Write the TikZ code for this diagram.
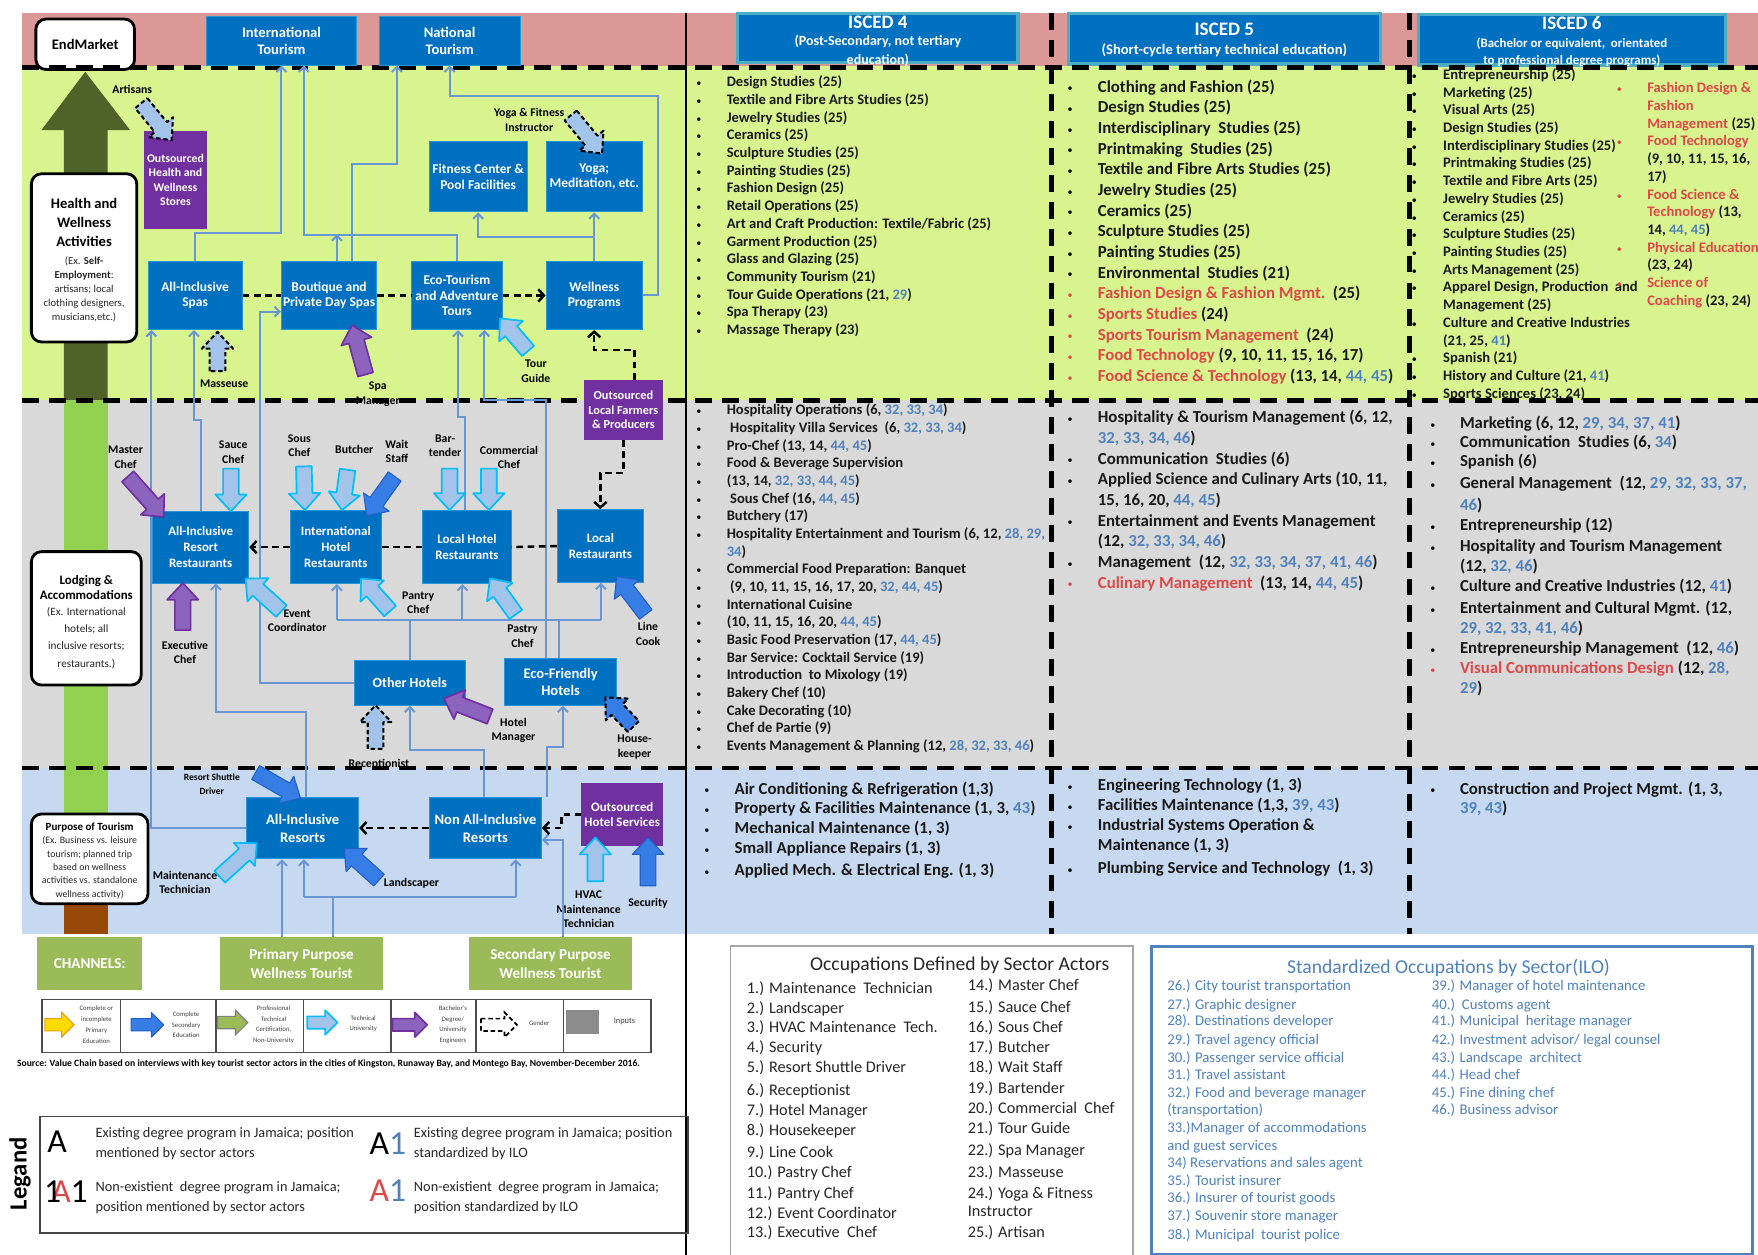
\documentclass[tikz,border=0pt]{standalone}
\usepackage{fontspec}
\setmainfont{Carlito}
\usetikzlibrary{calc,arrows.meta}
\definecolor{pinkband}{RGB}{220,152,150}
\definecolor{greenband}{RGB}{216,244,142}
\definecolor{grayband}{RGB}{217,217,217}
\definecolor{blueband}{RGB}{198,217,240}
\definecolor{boxblue}{RGB}{0,112,192}
\definecolor{boxedge}{RGB}{40,150,215}
\definecolor{purp}{RGB}{112,48,160}
\definecolor{conncol}{RGB}{105,150,212}
\definecolor{ilob}{RGB}{79,129,189}
\definecolor{redt}{RGB}{222,72,72}
\definecolor{olivedk}{RGB}{79,98,40}
\definecolor{lgreen}{RGB}{146,208,80}
\definecolor{brownsh}{RGB}{152,72,7}
\definecolor{chgreen}{RGB}{155,187,89}
\definecolor{falb}{RGB}{163,196,234}
\definecolor{facyan}{RGB}{0,190,250}
\definecolor{fablue}{RGB}{55,125,230}
\definecolor{fabluedk}{RGB}{35,95,200}
\definecolor{fapurp}{RGB}{140,100,190}
\definecolor{hdrcyan}{RGB}{75,172,198}
\definecolor{txtgray}{RGB}{38,38,38}
\definecolor{yel}{RGB}{255,220,0}
\definecolor{yeldk}{RGB}{240,160,0}
\newcounter{tn}
\newcommand{\Tx}[3][l4]{\stepcounter{tn}\node[#1] (t\arabic{tn}) at (#2) {#3};}
\newcommand{\Bx}[2][bul]{\stepcounter{tn}\node[#1] (t\arabic{tn}) at (#2) {\textbullet};}
\newcommand{\ItemB}[5][l4]{\Bx{#2,#4}\Tx[#1]{#3,#4}{#5}}
\newcommand{\ItemR}[5][l4]{\Bx[bul,text=redt]{#2,#4}\Tx[#1]{#3,#4}{#5}}
\newcommand{\qA}[2]{\ItemB[l4]{621}{648}{#1}{#2}}
\newcommand{\qAc}[2]{\Tx[l4]{648,#1}{#2}}
\newcommand{\qB}[2]{\ItemB[l5]{628}{655}{#1}{#2}}
\newcommand{\qV}[2]{\ItemB[l5]{952}{979}{#1}{#2}}
\newcommand{\qVr}[2]{\ItemR[l5]{952}{979}{#1}{#2}}
\newcommand{\qVc}[2]{\Tx[l5]{979,#1}{#2}}
\newcommand{\qS}[2]{\ItemB[l4]{1259}{1287}{#1}{#2}}
\newcommand{\qSc}[2]{\Tx[l4]{1287,#1}{#2}}
\newcommand{\qR}[2]{\ItemR[l4]{1442}{1469}{#1}{#2}}
\newcommand{\qRc}[2]{\Tx[l4]{1469,#1}{#2}}
\newcommand{\qG}[2]{\ItemB[l5]{1275.5}{1302}{#1}{#2}}
\newcommand{\qGr}[2]{\ItemR[l5]{1275.5}{1302}{#1}{#2}}
\newcommand{\qGc}[2]{\Tx[l5]{1302,#1}{#2}}
\newcommand{\bn}[1]{\textcolor{ilob}{#1}}
\newcommand{\rd}[1]{\textcolor{redt}{#1}}
\newcommand{\FAw}{7}
\newcommand{\FAhw}{14}
\newcommand{\FAhl}{15}
\newcommand{\fatarrow}[3][]{%
  \coordinate (fa-t) at #2;
  \coordinate (fa-p) at #3;
  \coordinate (fa-h) at ($(fa-p)!\FAhl pt!(fa-t)$);
  \draw[#1] ($(fa-t)!\FAw pt!90:(fa-p)$) -- ($(fa-h)!\FAw pt!90:(fa-p)$) -- ($(fa-h)!\FAhw pt!90:(fa-p)$) -- (fa-p) -- ($(fa-h)!\FAhw pt!-90:(fa-p)$) -- ($(fa-h)!\FAw pt!-90:(fa-p)$) -- ($(fa-t)!\FAw pt!-90:(fa-p)$) -- cycle;}
\begin{document}
\begin{tikzpicture}[x=1pt,y=-1pt,
  l4/.style={anchor=west, inner sep=0pt, text=black!90, font=\bfseries\fontsize{13}{15}\selectfont, text height=9pt, text depth=3pt},
  l5/.style={anchor=west, inner sep=0pt, text=black!90, font=\bfseries\fontsize{15}{17}\selectfont, text height=10pt, text depth=3.5pt},
  bul/.style={anchor=west, inner sep=0pt, font=\fontsize{9}{9}\selectfont, text height=9pt, text depth=3pt},
  oc/.style={anchor=west, inner sep=0pt, font=\fontsize{14.5}{16}\selectfont, text=txtgray, text height=10pt, text depth=3pt},
  ilot/.style={anchor=west, inner sep=0pt, font=\fontsize{13.2}{15}\selectfont, text=ilob, text height=9pt, text depth=3pt},
  legt/.style={anchor=west, inner sep=0pt, font=\fontsize{12.8}{15}\selectfont, text=txtgray},
  bbox/.style={fill=boxblue, draw=boxedge, line width=0.8pt, text=white, font=\bfseries\fontsize{12}{14}\selectfont, align=center, inner sep=1pt},
  pbox/.style={bbox, fill=purp, draw=purp},
  gbox/.style={fill=chgreen, text=white, font=\bfseries\fontsize{13.5}{16.5}\selectfont, align=center, inner sep=1pt},
  rbox/.style={fill=white, draw=black, line width=2.5pt, rounded corners=9pt, inner sep=0pt},
  lab/.style={font=\bfseries\fontsize{10.5}{13}\selectfont, align=center, inner sep=0pt},
  conn/.style={draw=conncol, line width=1.8pt},
  chead/.style={-{Straight Barb[length=4.5pt,width=9pt]}},
  dconn/.style={draw=black, line width=2.2pt, dash pattern=on 6pt off 4pt},
  dhead/.style={-{Straight Barb[length=5pt,width=11pt]}},
  bandsep/.style={draw=black, line width=4pt, dash pattern=on 15pt off 9pt},
  falight/.style={fill=falb, draw=facyan, line width=1.5pt, line join=round},
  fablu/.style={fill=fablue, draw=fabluedk, line width=1pt, line join=round},
  fapur/.style={fill=fapurp, draw=purp, line width=1.5pt, line join=round},
  fagen/.style={fill=falb, draw=black, line width=1.8pt, dash pattern=on 4pt off 2.5pt, line join=round},
  fagenb/.style={fagen, fill=fablue},
  hdr/.style={fill=boxblue, draw=hdrcyan, line width=3pt, inner sep=0pt},
  hdrt/.style={text=white, inner sep=0pt, font=\bfseries\fontsize{12.5}{14}\selectfont},
  et/.style={font=\fontsize{6}{9.7}\selectfont, align=center, text=gray!50!black, inner sep=0pt},
  cellst/.style={draw=gray!60!black, line width=1.2pt, anchor=north west, inner sep=0pt, minimum height=47pt}
]
\useasboundingbox (0,0) rectangle (1568,1119);
% bands
\fill[pinkband] (20,12) rectangle (1568,59);
\fill[greenband] (20,59) rectangle (1568,357);
\fill[grayband] (20,357) rectangle (1568,685);
\fill[blueband] (20,685) rectangle (1568,833);
% big arrow
\fill[olivedk] (76,64) -- (116,116) -- (96,116) -- (96,357) -- (57,357) -- (57,116) -- (37,116) -- cycle;
\fill[lgreen] (57,357) rectangle (96,766);
\fill[brownsh] (57,766) rectangle (96,833);
% rounded boxes
\node[rbox, minimum width=88pt, minimum height=45pt, font=\bfseries\fontsize{13}{15}\selectfont] (em) at (76,39.5) {EndMarket};
\node[rbox, minimum width=94pt, minimum height=150pt] (hwa) at (75,230) {};
\node[font=\bfseries\fontsize{13}{17}\selectfont, align=center, inner sep=0pt] (hwat) at (75,198.5) {Health and\\Wellness\\Activities};
\node[font=\fontsize{9.5}{12.6}\selectfont, align=center, inner sep=0pt, text=txtgray] (hwas) at (75,258) {(Ex. \textbf{Self-}\\\textbf{Employment}:\\artisans; local\\clothing designers,\\musicians,etc.)};
\node[rbox, minimum width=98pt, minimum height=119pt] (la) at (77,551.5) {};
\node[font=\bfseries\fontsize{11.5}{14}\selectfont, align=center, inner sep=0pt] (lat) at (77,524) {Lodging \&\\Accommodations};
\node[font=\fontsize{10}{15.3}\selectfont, align=center, inner sep=0pt, text=txtgray] (las) at (77,569) {(Ex. International\\hotels; all\\inclusive resorts;\\restaurants.)};
\node[rbox, minimum width=104pt, minimum height=80pt] (pot) at (80,766) {};
\node[font=\bfseries\fontsize{9.8}{12}\selectfont, inner sep=0pt] (pott) at (80,738) {Purpose of Tourism};
\node[font=\fontsize{8.8}{11.9}\selectfont, align=center, inner sep=0pt, text=txtgray] (pots) at (80,774) {(Ex. Business vs. leisure\\tourism; planned trip\\based on wellness\\activities vs. standalone\\wellness activity)};
% ISCED headers
\node[hdr, minimum width=250pt, minimum height=44pt] (h4) at (783,34) {};
\node[hdrt, font=\bfseries\fontsize{17}{18}\selectfont] (h4a) at (783,19.5) {ISCED 4};
\node[hdrt] (h4b) at (783,37) {(Post-Secondary, not tertiary};
\node[hdrt] (h4c) at (783,53.5) {education)};
\node[hdr, minimum width=278pt, minimum height=45pt] (h5) at (1092,34.5) {};
\node[hdrt, font=\bfseries\fontsize{17}{18}\selectfont] (h5a) at (1092,26) {ISCED 5};
\node[hdrt, font=\bfseries\fontsize{13}{14}\selectfont] (h5b) at (1092,45) {(Short-cycle tertiary technical education)};
\node[hdr, minimum width=274pt, minimum height=45pt] (h6) at (1402,35.5) {};
\node[hdrt, font=\bfseries\fontsize{17}{18}\selectfont] (h6a) at (1402,20.5) {ISCED 6};
\node[hdrt, font=\bfseries\fontsize{11.5}{12}\selectfont] (h6b) at (1402,39) {(Bachelor or equivalent,\ \ orientated};
\node[hdrt, font=\bfseries\fontsize{11.5}{12}\selectfont] (h6c) at (1402,54) {to professional degree programs)};
% ISCED 4 lists
\qA{74.3}{Design Studies (25)}
\qA{90.1}{Textile and Fibre Arts Studies (25)}
\qA{105.9}{Jewelry Studies (25)}
\qA{121.7}{Ceramics (25)}
\qA{137.5}{Sculpture Studies (25)}
\qA{153.3}{Painting Studies (25)}
\qA{169.1}{Fashion Design (25)}
\qA{184.9}{Retail Operations (25)}
\qA{200.7}{Art and Craft Production: Textile/Fabric (25)}
\qA{216.5}{Garment Production (25)}
\qA{232.3}{Glass and Glazing (25)}
\qA{248.1}{Community Tourism (21)}
\qA{263.9}{Tour Guide Operations (21, \bn{29})}
\qA{279.7}{Spa Therapy (23)}
\qA{295.5}{Massage Therapy (23)}
\qA{367}{Hospitality Operations (6, \bn{32, 33, 34})}
\qA{382.8}{\hspace{3pt}Hospitality Villa Services\ \ (6, \bn{32, 33, 34})}
\qA{398.5}{Pro-Chef (13, 14, \bn{44, 45})}
\qA{414.3}{Food \& Beverage Supervision}
\qA{430}{(13, 14, \bn{32, 33, 44, 45})}
\qA{445.8}{\hspace{3pt}Sous Chef (16, \bn{44, 45})}
\qA{461.5}{Butchery (17)}
\qA{477.3}{Hospitality Entertainment and Tourism (6, 12, \bn{28, 29,}}
\qAc{493}{\bn{34})}
\qA{508.8}{Commercial Food Preparation: Banquet}
\qA{524.5}{\hspace{3pt}(9, 10, 11, 15, 16, 17, 20, \bn{32, 44, 45})}
\qA{540.3}{International Cuisine}
\qA{556}{(10, 11, 15, 16, 20, \bn{44, 45})}
\qA{571.8}{Basic Food Preservation (17, \bn{44, 45})}
\qA{587.5}{Bar Service: Cocktail Service (19)}
\qA{603.3}{Introduction\ \ to Mixology (19)}
\qA{619}{Bakery Chef (10)}
\qA{634.8}{Cake Decorating (10)}
\qA{650.5}{Chef de Partie (9)}
\qA{666.3}{Events Management \& Planning (12, \bn{28, 32, 33, 46})}
\qB{705}{Air Conditioning \& Refrigeration (1,3)}
\qB{722.5}{Property \& Facilities Maintenance (1, 3, \bn{43})}
\qB{740}{Mechanical Maintenance (1, 3)}
\qB{758}{Small Appliance Repairs (1, 3)}
\qB{777.5}{Applied Mech. \& Electrical Eng. (1, 3)}
% ISCED 5 lists
\qV{79}{Clothing and Fashion (25)}
\qV{97.4}{Design Studies (25)}
\qV{115.9}{Interdisciplinary\ \ Studies (25)}
\qV{134.3}{Printmaking\ \ Studies (25)}
\qV{152.7}{Textile and Fibre Arts Studies (25)}
\qV{171.2}{Jewelry Studies (25)}
\qV{189.6}{Ceramics (25)}
\qV{208}{Sculpture Studies (25)}
\qV{226.4}{Painting Studies (25)}
\qV{244.9}{Environmental\ \ Studies (21)}
\qVr{263.3}{\rd{Fashion Design \& Fashion Mgmt.}\ \ (25)}
\qVr{281.7}{\rd{Sports Studies} (24)}
\qVr{300.2}{\rd{Sports Tourism Management}\ \ (24)}
\qVr{318.6}{\rd{Food Technology} (9, 10, 11, 15, 16, 17)}
\qVr{337}{\rd{Food Science \& Technology} (13, 14, \bn{44, 45})}
\qV{374}{Hospitality \& Tourism Management (6, 12,}
\qVc{392.4}{\bn{32, 33, 34, 46})}
\qV{410.8}{Communication\ \ Studies (6)}
\qV{429.2}{Applied Science and Culinary Arts (10, 11,}
\qVc{447.6}{15, 16, 20, \bn{44, 45})}
\qV{466}{Entertainment and Events Management}
\qVc{484.4}{(12, \bn{32, 33, 34, 46})}
\qV{502.8}{Management\ \ (12, \bn{32, 33, 34, 37, 41, 46})}
\qVr{521.2}{\rd{Culinary Management}\ \ (13, 14, \bn{44, 45})}
\qV{702}{Engineering Technology (1, 3)}
\qV{720}{Facilities Maintenance (1,3, \bn{39, 43})}
\qV{737.5}{Industrial Systems Operation \&}
\qVc{755.5}{Maintenance (1, 3)}
\qV{776}{Plumbing Service and Technology\ \ (1, 3)}
% ISCED 6 lists
\qS{67.8}{Entrepreneurship (25)}
\qS{83.6}{Marketing (25)}
\qS{99.4}{Visual Arts (25)}
\qS{115.2}{Design Studies (25)}
\qS{131}{Interdisciplinary Studies (25)}
\qS{146.8}{Printmaking Studies (25)}
\qS{162.6}{Textile and Fibre Arts (25)}
\qS{178.4}{Jewelry Studies (25)}
\qS{194.2}{Ceramics (25)}
\qS{210}{Sculpture Studies (25)}
\qS{225.8}{Painting Studies (25)}
\qS{241.6}{Arts Management (25)}
\qS{257.4}{Apparel Design, Production\ \ and}
\qSc{273.2}{Management (25)}
\qS{289}{Culture and Creative Industries}
\qSc{304.8}{(21, 25, \bn{41})}
\qS{320.6}{Spanish (21)}
\qS{336.4}{History and Culture (21, \bn{41})}
\qS{352.2}{Sports Sciences (23, 24)}
\qR{79.7}{\rd{Fashion Design \&}}
\qRc{95.5}{\rd{Fashion}}
\qRc{111.3}{\rd{Management} (25)}
\qR{127.1}{\rd{Food Technology}}
\qRc{142.9}{(9, 10, 11, 15, 16,}
\qRc{158.7}{17)}
\qR{174.5}{\rd{Food Science \&}}
\qRc{190.3}{\rd{Technology} (13,}
\qRc{206.1}{14, \bn{44, 45})}
\qR{221.9}{\rd{Physical Education}}
\qRc{237.7}{(23, 24)}
\qR{253.5}{\rd{Science of}}
\qRc{269.3}{\rd{Coaching} (23, 24)}
\qG{379}{Marketing (6, 12, \bn{29, 34, 37, 41})}
\qG{396.3}{Communication\ \ Studies (6, \bn{34})}
\qG{413.2}{Spanish (6)}
\qG{432.6}{General Management\ \ (12, \bn{29, 32, 33, 37,}}
\qGc{451.9}{\bn{46})}
\qG{470.3}{Entrepreneurship (12)}
\qG{488.5}{Hospitality and Tourism Management}
\qGc{506.9}{(12, \bn{32, 46})}
\qG{524.7}{Culture and Creative Industries (12, \bn{41})}
\qG{544}{Entertainment and Cultural Mgmt. (12,}
\qGc{562}{\bn{29, 32, 33, 41, 46})}
\qG{579.7}{Entrepreneurship Management\ \ (12, \bn{46})}
\qGr{597.6}{\rd{Visual Communications Design} (12, \bn{28,}}
\qGc{615.4}{\bn{29})}
\qG{705}{Construction and Project Mgmt. (1, 3,}
\qGc{722.5}{\bn{39, 43})}
% actor labels
\node[lab] (lArt) at (118,80) {Artisans};
\node[lab] (lYoga) at (472,107) {Yoga \& Fitness\\Instructor};
\node[lab] (lMass) at (200,342) {Masseuse};
\node[lab] (lSpa) at (337,351.5) {Spa\\Manager};
\node[lab] (lTour) at (478,331) {Tour\\Guide};
\node[lab] (lMaster) at (112,408) {Master\\Chef};
\node[lab] (lSauce) at (208,403.5) {Sauce\\Chef};
\node[lab] (lSous) at (267,397.5) {Sous\\Chef};
\node[lab] (lButch) at (316,401) {Butcher};
\node[lab] (lWait) at (354,402.5) {Wait\\Staff};
\node[lab] (lBar) at (397,397.5) {Bar-\\tender};
\node[lab] (lComm) at (454,408) {Commercial\\Chef};
\node[lab] (lExec) at (165,582) {Executive\\Chef};
\node[lab] (lEvent) at (265,553.5) {Event\\Coordinator};
\node[lab] (lPantry) at (373,537.5) {Pantry\\Chef};
\node[lab] (lPastry) at (466,567.5) {Pastry\\Chef};
\node[lab] (lLine) at (578,565.5) {Line\\Cook};
\node[lab] (lRecep) at (338,682) {Receptionist};
\node[lab] (lHotel) at (458,651.5) {Hotel\\Manager};
\node[lab] (lHouse) at (566,666.5) {House-\\keeper};
\node[lab, font=\bfseries\fontsize{8.5}{12}\selectfont] (lShuttle) at (189,699.5) {Resort Shuttle\\Driver};
\node[lab] (lMaint) at (165,787) {Maintenance\\Technician};
\node[lab] (lLand) at (367,788) {Landscaper};
\node[lab] (lHVAC) at (525,811) {HVAC\\Maintenance\\Technician};
\node[lab] (lSec) at (578,806) {Security};
% band separators
\draw[bandsep] (20,60) -- (1568,60);
\draw[bandsep] (20,357) -- (1568,357);
\draw[bandsep] (20,685) -- (1568,685);
\draw[bandsep] (938,12) -- (938,833);
\draw[bandsep] (1257,12) -- (1257,833);
\draw[line width=2pt] (612,12) -- (612,1119);
% boxes
\node[bbox, minimum width=134pt, minimum height=43pt, font=\bfseries\fontsize{13}{16}\selectfont] (it) at (251,36.5) {International\\Tourism};
\node[bbox, minimum width=126pt, minimum height=43pt, font=\bfseries\fontsize{13}{16}\selectfont] (nt) at (401,36.5) {National\\Tourism};
\node[pbox, minimum width=55pt, minimum height=87pt, font=\bfseries\fontsize{10.5}{13}\selectfont] (ohw) at (156.5,160.5) {Outsourced\\Health and\\Wellness\\Stores};
\node[bbox, minimum width=87pt, minimum height=63pt] (fc) at (426.5,157.5) {Fitness Center \&\\Pool Facilities};
\node[bbox, minimum width=86pt, minimum height=63pt] (yo) at (530,157.5) {Yoga;\\Meditation, etc.};
\node[bbox, minimum width=84pt, minimum height=61pt] (ais) at (174,263.5) {All-Inclusive\\Spas};
\node[bbox, minimum width=85pt, minimum height=61pt] (bds) at (293.5,263.5) {Boutique and\\Private Day Spas};
\node[bbox, minimum width=81pt, minimum height=61pt] (eco) at (407.5,263.5) {Eco-Tourism\\and Adventure\\Tours};
\node[bbox, minimum width=86pt, minimum height=61pt] (wp) at (530,263.5) {Wellness\\Programs};
\node[pbox, minimum width=70pt, minimum height=53pt, font=\bfseries\fontsize{11}{13}\selectfont] (olf) at (556,365.5) {Outsourced\\Local Farmers\\\& Producers};
\node[bbox, minimum width=86pt, minimum height=64pt, font=\bfseries\fontsize{11.5}{14}\selectfont] (airr) at (179,488) {All-Inclusive\\Resort\\Restaurants};
\node[bbox, minimum width=81pt, minimum height=65pt, font=\bfseries\fontsize{11.5}{14}\selectfont] (ihr) at (299.5,488) {International\\Hotel\\Restaurants};
\node[bbox, minimum width=79pt, minimum height=65pt, font=\bfseries\fontsize{11.5}{14}\selectfont] (lhr) at (416.5,488) {Local Hotel\\Restaurants};
\node[bbox, minimum width=77pt, minimum height=65pt, font=\bfseries\fontsize{11.5}{14}\selectfont] (lr) at (535.5,487) {Local\\Restaurants};
\node[bbox, minimum width=99pt, minimum height=40pt, font=\bfseries\fontsize{12.5}{15}\selectfont] (oh) at (365.5,609) {Other Hotels};
\node[bbox, minimum width=100pt, minimum height=42pt, font=\bfseries\fontsize{13}{15.5}\selectfont] (efh) at (500,608) {Eco-Friendly\\Hotels};
\node[bbox, minimum width=100pt, minimum height=55pt, font=\bfseries\fontsize{13}{16}\selectfont] (air) at (270,738.5) {All-Inclusive\\Resorts};
\node[bbox, minimum width=100pt, minimum height=55pt, font=\bfseries\fontsize{13}{16}\selectfont] (nair) at (433,738.5) {Non All-Inclusive\\Resorts};
\node[pbox, minimum width=72pt, minimum height=55pt, font=\bfseries\fontsize{11.5}{14}\selectfont] (ohs) at (555,726.5) {Outsourced\\Hotel Services};
\node[gbox, minimum width=94pt, minimum height=47pt] (ch) at (80,859.5) {CHANNELS:};
\node[gbox, minimum width=146pt, minimum height=47pt] (ppw) at (269,859.5) {Primary Purpose\\Wellness Tourist};
\node[gbox, minimum width=146pt, minimum height=47pt] (spw) at (491,859.5) {Secondary Purpose\\Wellness Tourist};
\coordinate (efhtail) at (488,711);
\coordinate (wpbranch) at (530,211);
% connectors (light blue)
\draw[conn,chead] (ais.north) |- (251,208) -- (it.south);
\draw[conn,chead] ([xshift=7pt]bds.north) -- (300.5,209);
\draw[conn,chead] ([xshift=20.5pt]bds.north) |- (354,146) -- ([xshift=-47pt]nt.south);
\draw[conn,chead] (wp.east) -| (587,86) -| (nt.south);
\draw[conn,chead] (eco.north) |- (271,210) -- ([xshift=20pt]it.south);
\draw[conn,chead] (wp.north) -- (yo.south);
\draw[conn,chead] (wpbranch) -| (fc.south);
\draw[conn,chead] (oh.west) -| (232,278) -- ([yshift=-14.5pt]bds.west);
\draw[conn,chead] (air.west) -| ([xshift=-39pt]ais.south);
\draw[conn,chead] (airr.north) |- (173,375) -- ([xshift=-1pt]ais.south);
\draw[conn,chead] ([xshift=-2pt]lhr.north) |- (408.5,372) -- ([xshift=1pt]eco.south);
\draw[conn,chead] ([xshift=-13pt]efh.north) |- (432,357) -- ([xshift=24.5pt]eco.south);
\draw[conn] (oh.north) -- (365.5,553);
\draw[conn] (300.5,553) -- (536,553);
\draw[conn,chead] (300.5,553) -- ([xshift=1pt]ihr.south);
\draw[conn,chead] (412.5,553) -- ([xshift=-4pt]lhr.south);
\draw[conn,chead] (536,553) -- ([xshift=0.5pt]lr.south);
\draw[conn] ([xshift=-1pt]efh.north) -- (499,553);
\draw[conn,chead] ([xshift=3pt]air.north) |- (192.5,635) -- ([xshift=13.5pt]airr.south);
\draw[conn,chead] ([xshift=-1pt]nair.north) |- (365.5,669) -- (oh.south);
\draw[conn,chead] (efhtail) -- (488,666) -| ([xshift=2pt]efh.south);
\draw[conn,chead] ([xshift=11pt]spw.north) |- ([yshift=-10.5pt]nair.east);
\draw[conn,chead] ([xshift=-17.5pt]ppw.north) -- ([xshift=-18.5pt]air.south);
\draw[conn] ([xshift=28pt]ppw.north) -- (297,800);
\draw[conn] (271,800) -- (460,800);
\draw[conn,chead] (271,800) -- ([xshift=1pt]air.south);
\draw[conn,chead] (460,800) -- ([xshift=27pt]nair.south);
% dashed connectors
\draw[dconn] (ais.east) -- (bds.west);
\draw[dconn] (bds.east) -- (eco.west);
\draw[dconn,dhead] (eco.east) -- (wp.west);
\draw[dconn,dhead] ([xshift=10pt]olf.north) |- (530,312) -- (wp.south);
\draw[dconn,dhead] (olf.south) |- (535.5,422) -- (lr.north);
\draw[dconn] (lr.west) -- (lhr.east);
\draw[dconn] (lhr.west) -- (ihr.east);
\draw[dconn,dhead] (ihr.west) -- (airr.east);
\draw[dconn,dhead] (nair.west) -- (air.east);
\draw[dconn,dhead] (ohs.west) -| (501,738.5) -- (nair.east);
% fat arrows
\fatarrow[fagen]{(126,92)}{(153,125)}
\fatarrow[fagen]{(509,103)}{(537,137)}
\fatarrow[fagen]{(194,331)}{(194,296)}
\fatarrow[fapur]{(326,334)}{(314,290)}
\fatarrow[falight]{(471,313)}{(446,284)}
\fatarrow[fapur]{(114,425)}{(146,461)}
\fatarrow[falight]{(206,418)}{(206,456)}
\fatarrow[falight]{(271,416)}{(272,455)}
\fatarrow[falight]{(310,419)}{(305,455)}
\fatarrow[fablu]{(352,425)}{(327,460)}
\fatarrow[falight]{(401,418)}{(401,455)}
\fatarrow[falight]{(436,418)}{(436,455)}
\fatarrow[fapur]{(163,562)}{(163,520)}
\fatarrow[falight]{(251,545)}{(219,516)}
\fatarrow[falight]{(348,545)}{(322,516)}
\fatarrow[falight]{(460,548)}{(437,516)}
\fatarrow[fablu]{(576,548)}{(550,514)}
\fatarrow[fagen]{(335,668)}{(335,629)}
\fatarrow[fapur]{(437,639)}{(396,623)}
\fatarrow[fagenb]{(565,648)}{(540,622)}
\fatarrow[fablu]{(228,689)}{(268,712)}
\fatarrow[falight]{(196,782)}{(229,752)}
\fatarrow[fablu]{(338,785)}{(307,757)}
\fatarrow[falight]{(531,786)}{(531,747)}
\fatarrow[fablu]{(578,790)}{(578,747)}
% education strip
\node[cellst, minimum width=70pt] (e1) at (37,891) {};
\node[cellst, minimum width=85pt] (e2) at (107,891) {};
\node[cellst, minimum width=78pt] (e3) at (192,891) {};
\node[cellst, minimum width=78pt] (e4) at (270,891) {};
\node[cellst, minimum width=76pt] (e5) at (348,891) {};
\node[cellst, minimum width=78pt] (e6) at (424,891) {};
\node[cellst, minimum width=78pt] (e7) at (502,891) {};
\begin{scope}
\renewcommand{\FAw}{5.5}\renewcommand{\FAhw}{11}\renewcommand{\FAhl}{11}
\fatarrow[fill=yel, draw=yeldk, line width=1pt]{(40,914)}{(66,914)}
\fatarrow[fablu]{(117,914)}{(146,914)}
\fatarrow[fill=chgreen, draw=gray, line width=1pt]{(194,912)}{(221,912)}
\fatarrow[falight]{(274,912)}{(301,912)}
\fatarrow[fapur]{(350,914)}{(381,914)}
\fatarrow[fill=white, draw=black, line width=1.5pt, dash pattern=on 4pt off 2.5pt]{(429,914)}{(461,914)}
\end{scope}
\node[fill=gray!90, minimum width=29pt, minimum height=21pt, inner sep=0pt] (inp) at (519.5,911.5) {};
\node[et] (e1t) at (86,914) {Complete or\\incomplete\\Primary\\Education};
\node[et] (e2t) at (166,914) {Complete\\Secondary\\Education};
\node[et] (e3t) at (244,914) {Professional\\Technical\\Certification,\\Non-University};
\node[et] (e4t) at (324,913) {Technical\\University};
\node[et] (e5t) at (404,914) {Bachelor's\\Degree/\\University\\Engineers};
\node[et] (e6t) at (481,913) {Gender};
\node[et, font=\fontsize{7.5}{9}\selectfont] (e7t) at (557,911) {Inputs};
\node[anchor=west, inner sep=0pt, font=\bfseries\fontsize{8.6}{9}\selectfont] (src) at (15,949) {Source: Value Chain based on interviews with key tourist sector actors in the cities of Kingston, Runaway Bay, and Montego Bay, November-December 2016.};
% legend
\node[draw=gray!55!black, line width=1.5pt, minimum width=578pt, minimum height=104pt, anchor=north west, inner sep=0pt] (legbox) at (35,995) {};
\node[rotate=90, font=\bfseries\fontsize{22}{24}\selectfont, inner sep=0pt] (legtitle) at (18,1047) {Legand};
\node[font=\fontsize{30}{30}\selectfont, inner sep=0pt] (lga) at (51,1018) {A};
\node[legt] (lg1a) at (85,1011) {Existing degree program in Jamaica; position};
\node[legt] (lg1b) at (85,1029) {mentioned by sector actors};
\node[font=\fontsize{30}{30}\selectfont, inner sep=0pt] (lgb) at (346,1020) {A\textcolor{ilob}{1}};
\node[legt] (lg2a) at (369,1011) {Existing degree program in Jamaica; position};
\node[legt] (lg2b) at (369,1029) {standardized by ILO};
\node[font=\fontsize{30}{30}\selectfont, inner sep=0pt] (lgc) at (62,1063) {\textcolor{redt}{A}1};
\node[font=\fontsize{30}{30}\selectfont, inner sep=0pt] (lgcx) at (47,1063) {1};
\node[legt] (lg3a) at (85,1059) {Non-existient\ \ degree program in Jamaica;};
\node[legt] (lg3b) at (85,1077) {position mentioned by sector actors};
\node[font=\fontsize{30}{30}\selectfont, inner sep=0pt] (lgd) at (346,1062) {\textcolor{redt}{A}\textcolor{ilob}{1}};
\node[legt] (lg4a) at (369,1059) {Non-existient\ \ degree program in Jamaica;};
\node[legt] (lg4b) at (369,1077) {position standardized by ILO};
% occupations box
\node[draw=gray!70, line width=1.2pt, minimum width=359pt, minimum height=285pt, anchor=north west, inner sep=0pt] (occbox) at (651,843) {};
\node[font=\fontsize{17.5}{20}\selectfont, text=txtgray, inner sep=0pt] (octitle) at (856,861) {Occupations Defined by Sector Actors};
\Tx[oc]{666,883}{1.) Maintenance\ \ Technician}
\Tx[oc]{666,900.8}{2.) Landscaper}
\Tx[oc]{666,917.2}{3.) HVAC Maintenance\ \ Tech.}
\Tx[oc]{666,935}{4.) Security}
\Tx[oc]{666,952.8}{5.) Resort Shuttle Driver}
\Tx[oc]{666,973.7}{6.) Receptionist}
\Tx[oc]{666,991.5}{7.) Hotel Manager}
\Tx[oc]{666,1009.4}{8.) Housekeeper}
\Tx[oc]{666,1028.6}{9.) Line Cook}
\Tx[oc]{666,1046.5}{10.) Pastry Chef}
\Tx[oc]{666,1065.8}{11.) Pantry Chef}
\Tx[oc]{666,1083.7}{12.) Event Coordinator}
\Tx[oc]{666,1100}{13.) Executive\ \ Chef}
\Tx[oc]{863,880}{14.) Master Chef}
\Tx[oc]{863,899.3}{15.) Sauce Chef}
\Tx[oc]{863,917.2}{16.) Sous Chef}
\Tx[oc]{863,935}{17.) Butcher}
\Tx[oc]{863,952.8}{18.) Wait Staff}
\Tx[oc]{863,972.2}{19.) Bartender}
\Tx[oc]{863,990}{20.) Commercial\ \ Chef}
\Tx[oc]{863,1007.9}{21.) Tour Guide}
\Tx[oc]{863,1027.2}{22.) Spa Manager}
\Tx[oc]{863,1046.5}{23.) Masseuse}
\Tx[oc]{863,1065.8}{24.) Yoga \& Fitness}
\Tx[oc]{863,1081.6}{Instructor}
\Tx[oc]{863,1100}{25.) Artisan}
% ILO box
\node[draw=ilob, line width=2.5pt, minimum width=536pt, minimum height=275pt, anchor=north west, inner sep=0pt] (ilobox) at (1026,843) {};
\node[font=\fontsize{17.5}{20}\selectfont, text=ilob, inner sep=0pt] (ilotitle) at (1292,863) {Standardized Occupations by Sector(ILO)};
\Tx[ilot]{1041,880}{26.) City tourist transportation}
\Tx[ilot]{1041,897}{27.) Graphic designer}
\Tx[ilot]{1041,911.8}{28). Destinations developer}
\Tx[ilot]{1041,928.2}{29.) Travel agency official}
\Tx[ilot]{1041,944.5}{30.) Passenger service official}
\Tx[ilot]{1041,959.4}{31.) Travel assistant}
\Tx[ilot]{1041,975.8}{32.) Food and beverage manager}
\Tx[ilot]{1041,990.6}{(transportation)}
\Tx[ilot]{1041,1007}{33.)Manager of accommodations}
\Tx[ilot]{1041,1023.3}{and guest services}
\Tx[ilot]{1041,1038.2}{34) Reservations and sales agent}
\Tx[ilot]{1041,1054.5}{35.) Tourist insurer}
\Tx[ilot]{1041,1069.4}{36.) Insurer of tourist goods}
\Tx[ilot]{1041,1085.7}{37.) Souvenir store manager}
\Tx[ilot]{1041,1102.1}{38.) Municipal\ \ tourist police}
\Tx[ilot]{1277,880}{39.) Manager of hotel maintenance}
\Tx[ilot]{1277,897}{40.)\ \ Customs agent}
\Tx[ilot]{1277,911.8}{41.) Municipal\ \ heritage manager}
\Tx[ilot]{1277,928.2}{42.) Investment advisor/ legal counsel}
\Tx[ilot]{1277,944.5}{43.) Landscape\ \ architect}
\Tx[ilot]{1277,959.4}{44.) Head chef}
\Tx[ilot]{1277,975.8}{45.) Fine dining chef}
\Tx[ilot]{1277,990.6}{46.) Business advisor}
\end{tikzpicture}
\end{document}
